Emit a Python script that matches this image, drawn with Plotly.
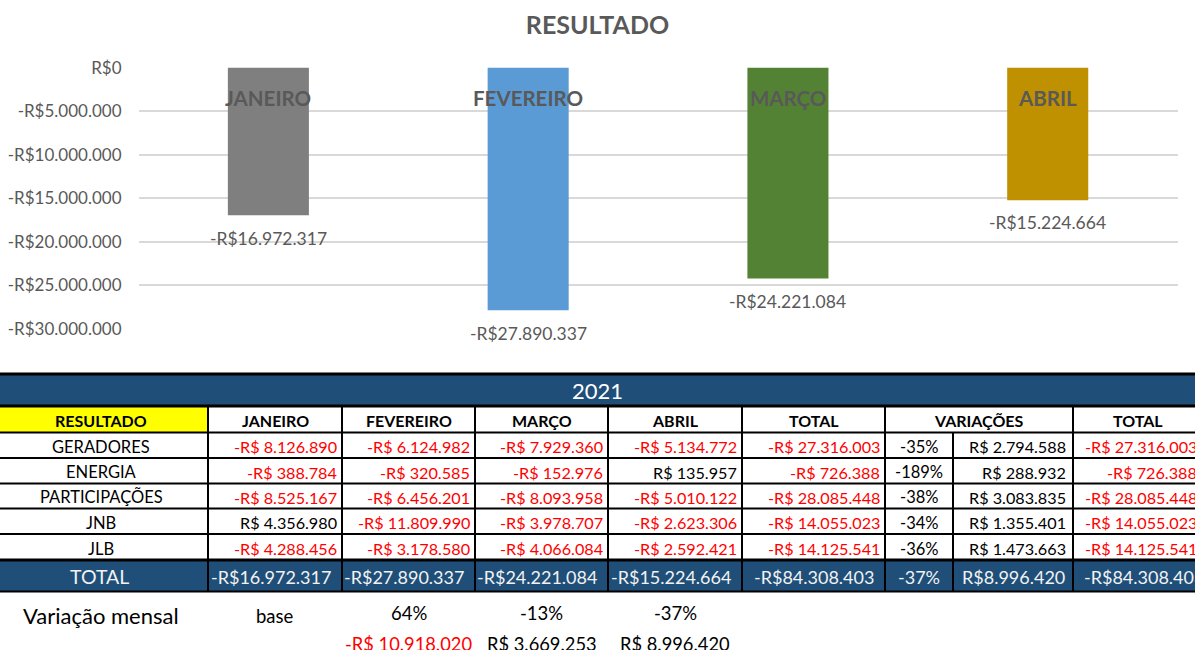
import plotly.graph_objects as go

W, H = 1195, 650

# ---- chart data ----
months = ["JANEIRO", "FEVEREIRO", "MARÇO", "ABRIL"]
month_results = [-16972317, -27890337, -24221084, -15224664]
bar_colors = ["#7f7f7f", "#5b9bd5", "#548235", "#bf9000"]
axis_ticks = [0, -5000000, -10000000, -15000000, -20000000, -25000000, -30000000]

# ---- table data ----
year_label = "2021"
header_labels = ["RESULTADO", "JANEIRO", "FEVEREIRO", "MARÇO", "ABRIL", "TOTAL", "VARIAÇÕES", "TOTAL"]
row_names = ["GERADORES", "ENERGIA", "PARTICIPAÇÕES", "JNB", "JLB"]
jan_vals = [-8126890, -388784, -8525167, 4356980, -4288456]
feb_vals = [-6124982, -320585, -6456201, -11809990, -3178580]
mar_vals = [-7929360, -152976, -8093958, -3978707, -4066084]
abr_vals = [-5134772, 135957, -5010122, -2623306, -2592421]
row_totals = [-27316003, -726388, -28085448, -14055023, -14125541]
var_pct = [-35, -189, -38, -34, -36]
var_vals = [2794588, 288932, 3083835, 1355401, 1473663]
grand_total = -84308403
grand_var_pct = -37
grand_var_val = 8996420
monthly_label = "Variação mensal"
monthly_base = "base"
monthly_pct = [64, -13, -37]
monthly_diff = [-10918020, 3669253, 8996420]

FONT = "Lato"
GREY = "#595959"
NAVY = "#1f4e79"
RED = "#ff0000"


def brl(v, space=True):
    digits = f"{abs(v):,}".replace(",", ".")
    sign = "-" if v < 0 else ""
    return f"{sign}R${' ' if space else ''}{digits}"


def px(x):
    return x / W


def py(y):
    return 1 - y / H


fig = go.Figure()

# ---- bar chart ----
fig.add_trace(go.Bar(
    x=months, y=month_results,
    marker=dict(color=bar_colors, line=dict(width=0)),
    hoverinfo="skip", showlegend=False,
))

y_lo, y_hi = -30.1e6, 0.1e6
plot_top, plot_bot = 67.7, 328.7          # pixel rows of 0 and -30M
ppm = (plot_bot - plot_top) / 30e6
dom_top = plot_top - (y_hi - 0) * ppm
dom_bot = plot_bot + (-30e6 - y_lo) * ppm

fig.update_layout(
    width=W, height=H,
    margin=dict(l=0, r=0, t=0, b=0),
    paper_bgcolor="white", plot_bgcolor="white",
    bargap=0.688,
    font=dict(family=FONT, color=GREY),
    title=dict(text="<b>RESULTADO</b>", x=0.5, xanchor="center",
               y=py(25), yanchor="middle", yref="paper",
               font=dict(family=FONT, size=25, color=GREY)),
    xaxis=dict(domain=[px(138.5), px(1177.6)], showticklabels=False,
               showgrid=False, zeroline=False, showline=False, fixedrange=True),
    yaxis=dict(domain=[py(dom_bot), py(dom_top)], range=[y_lo, y_hi],
               tickvals=axis_ticks, ticktext=[brl(v, space=False) for v in axis_ticks],
               tickfont=dict(family=FONT, size=17, color=GREY),
               showgrid=True, gridcolor="#d9d9d9", gridwidth=1.5,
               zeroline=False, showline=False, ticks="", ticklabelstandoff=16,
               automargin=False, fixedrange=True),
)

annotations = []
shapes = []

# month names at the top of each bar and value labels under each bar
for m, v in zip(months, month_results):
    annotations.append(dict(x=m, y=0, xref="x", yref="y", yshift=-30.6,
                            text=f"<b>{m}</b>", showarrow=False,
                            xanchor="center", yanchor="middle",
                            font=dict(family=FONT, size=20.5, color=GREY)))
    annotations.append(dict(x=m, y=v, xref="x", yref="y", yshift=-22.7,
                            text=brl(v, space=False), showarrow=False,
                            xanchor="center", yanchor="middle",
                            font=dict(family=FONT, size=17.5, color=GREY)))

# ---- table ----
col_edges = [-6, 208, 342, 475, 608, 742, 885, 953, 1073, 1207]
row_edges = [374, 406, 432.5, 458, 483.5, 508.5, 534, 560, 591.5]


def rect(x0, x1, y0, y1, color):
    shapes.append(dict(type="rect", xref="paper", yref="paper",
                       x0=px(x0), x1=px(x1), y0=py(y1), y1=py(y0),
                       fillcolor=color, line=dict(width=0), layer="below"))


def hline(y, x0, x1, w=2):
    shapes.append(dict(type="line", xref="paper", yref="paper",
                       x0=px(x0), x1=px(x1), y0=py(y), y1=py(y),
                       line=dict(color="black", width=w)))


def vline(x, y0, y1, w=2):
    shapes.append(dict(type="line", xref="paper", yref="paper",
                       x0=px(x), x1=px(x), y0=py(y0), y1=py(y1),
                       line=dict(color="black", width=w)))


def text(s, x, y, size, color="black", anchor="center", bold=False):
    annotations.append(dict(x=px(x), y=py(y), xref="paper", yref="paper",
                            text=f"<b>{s}</b>" if bold else s, showarrow=False,
                            xanchor=anchor, yanchor="middle",
                            font=dict(family=FONT, size=size, color=color)))


# fills
rect(0, W, row_edges[0], row_edges[1], NAVY)
rect(0, col_edges[1], row_edges[1], row_edges[2], "#ffff00")
rect(0, W, row_edges[7], row_edges[8], NAVY)

# borders
for i, y in enumerate(row_edges):
    hline(y, 0, W, 3 if i in (0, 1, 7) else 2)
for j, x in enumerate(col_edges[1:-1], start=1):
    top = row_edges[2] if j == 7 else row_edges[1]
    vline(x, top, row_edges[8])

# year band
text(year_label, W / 2, (row_edges[0] + row_edges[1]) / 2, 22, "white")

# header row
hdr_y = (row_edges[1] + row_edges[2]) / 2 + 1
centers = [101] + [(col_edges[j] + col_edges[j + 1]) / 2 for j in range(1, 6)]
for lab, cx in zip(header_labels[:6], centers):
    text(lab, cx, hdr_y, 16, bold=True)
text(header_labels[6], (col_edges[6] + col_edges[8]) / 2, hdr_y, 16, bold=True)
text(header_labels[7], 1137.5, hdr_y, 16, bold=True)


def money_color(v):
    return RED if v < 0 else "black"


# body rows
for i, name in enumerate(row_names):
    cy = (row_edges[i + 2] + row_edges[i + 3]) / 2 + 1.5
    text(name, 101, cy, 16.5)
    vals = [jan_vals[i], feb_vals[i], mar_vals[i], abr_vals[i], row_totals[i]]
    for j, v in enumerate(vals, start=2):
        text(brl(v), col_edges[j] - 3.5, cy, 16.2, money_color(v), "right")
    text(f"{var_pct[i]}%", (col_edges[6] + col_edges[7]) / 2, cy, 16.5)
    text(brl(var_vals[i]), col_edges[8] - 5, cy, 16.2, money_color(var_vals[i]), "right")
    text(brl(row_totals[i]), 1199, cy, 16.2, money_color(row_totals[i]), "right")

# total row
ty = (row_edges[7] + row_edges[8]) / 2 + 1
LIGHT = "#f2f2f2"
text("TOTAL", 99, ty, 19.5, LIGHT)
for j, v in enumerate(month_results + [grand_total], start=2):
    text(brl(v, space=False), col_edges[j] - 9, ty, 18, LIGHT, "right")
text(f"{grand_var_pct}%", (col_edges[6] + col_edges[7]) / 2, ty, 18, LIGHT)
text(brl(grand_var_val, space=False), col_edges[8] - 6.5, ty, 18, LIGHT, "right")
text(brl(grand_total, space=False), 1206, ty, 18, LIGHT, "right")

# monthly variation lines below the table
text(monthly_label, 101, 615, 22)
text(monthly_base, 275, 615.5, 18.5)
for j, (p, d) in enumerate(zip(monthly_pct, monthly_diff), start=3):
    cx = (col_edges[j - 1] + col_edges[j]) / 2
    text(f"{p}%", cx, 612.5, 18.5)
    text(brl(d), cx, 643.5, 18.3, money_color(d))

fig.update_layout(annotations=annotations, shapes=shapes)

fig.write_html("out.html")
